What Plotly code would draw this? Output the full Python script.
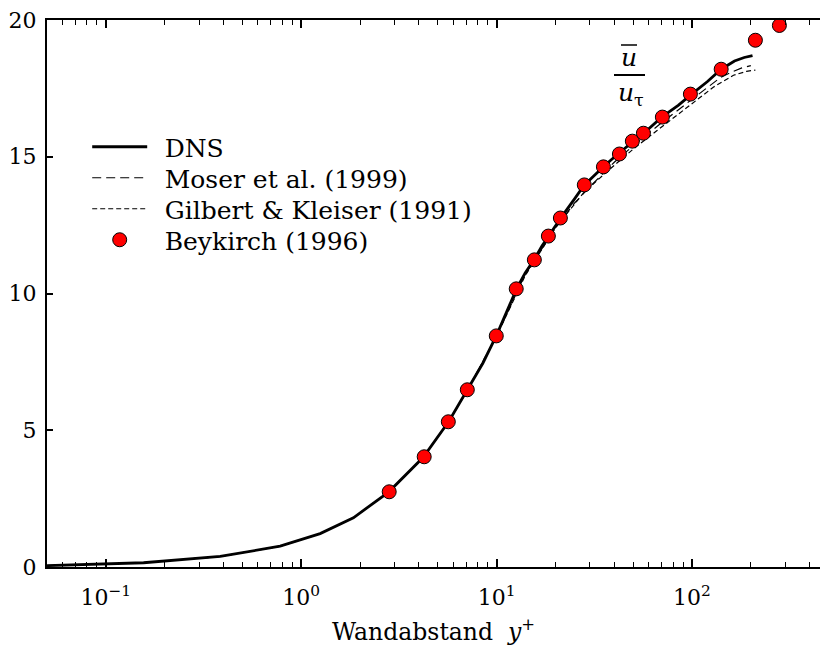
import numpy as np
import plotly.graph_objects as go

# ---- data ----
dns_y = [0.05, 0.156, 0.385, 0.78, 1.25, 1.85, 2.8, 4.2, 5.7, 7.1, 8.5, 10, 11.3, 12.7, 14, 15.6, 17,
         18.5, 20, 21.5, 25, 28, 32, 36, 42, 50, 57, 70, 85, 100, 120, 141, 165, 185, 204]
dns_u = [0.05, 0.156, 0.385, 0.76, 1.22, 1.80, 2.74, 4.0, 5.33, 6.47, 7.45, 8.48, 9.35, 10.2, 10.75,
         11.25, 11.72, 12.12, 12.48, 12.8, 13.45, 13.95, 14.35, 14.7, 15.12, 15.57, 15.88, 16.45,
         16.88, 17.3, 17.75, 18.2, 18.5, 18.63, 18.7]

moser_y = [0.05, 0.156, 0.385, 0.78, 1.25, 1.85, 2.8, 4.2, 5.7, 7.1, 10, 14, 20, 25, 30, 40, 50,
           70, 100, 140, 160, 180, 200]
moser_u = [0.05, 0.156, 0.385, 0.76, 1.22, 1.80, 2.74, 4.0, 5.33, 6.47, 8.45, 10.7, 12.4, 13.3,
           13.9, 14.8, 15.4, 16.25, 17.1, 17.9, 18.1, 18.25, 18.33]

gk_y = [0.05, 0.156, 0.385, 0.78, 1.25, 1.85, 2.8, 4.2, 5.7, 7.1, 10, 14, 20, 25, 28, 38, 50, 66,
        94, 129, 163, 190, 211]
gk_u = [0.05, 0.156, 0.385, 0.76, 1.22, 1.80, 2.74, 4.0, 5.33, 6.47, 8.45, 10.65, 12.4, 13.25,
        13.7, 14.55, 15.28, 15.95, 16.8, 17.55, 17.98, 18.12, 18.17]

bey_y = [2.82, 4.26, 5.66, 7.08, 9.96, 12.6, 15.6, 18.4, 21.2, 28.1, 35.2, 42.5, 49.5, 56.4, 70.5,
         98.1, 141, 211, 280]
bey_u = [2.75, 4.03, 5.31, 6.48, 8.45, 10.17, 11.23, 12.1, 12.76, 13.97, 14.63, 15.1, 15.57, 15.86,
         16.45, 17.29, 18.2, 19.26, 19.8]

x_tickvals = [0.1, 1, 10, 100]
x_ticktext = ["10<sup>\u22121</sup>", "10<sup>0</sup>", "10<sup>1</sup>", "10<sup>2</sup>"]
x_minor = [m * 10.0 ** e for e in range(-2, 3) for m in range(2, 10)]
y_tickvals = [0, 5, 10, 15, 20]

FONT = "DejaVu Serif"
GAP = "\u2002"

fig = go.Figure()
fig.add_trace(go.Scatter(x=dns_y, y=dns_u, mode="lines", name=GAP + "DNS", legend="legend",
                         line=dict(color="black", width=2.8)))
fig.add_trace(go.Scatter(x=moser_y, y=moser_u, mode="lines", name=GAP + "Moser et al. (1999)",
                         legend="legend2",
                         line=dict(color="black", width=1.2, dash="9px,5px")))
fig.add_trace(go.Scatter(x=gk_y, y=gk_u, mode="lines", name=GAP + "Gilbert &amp; Kleiser (1991)",
                         legend="legend3",
                         line=dict(color="black", width=1.2, dash="5px,3px")))
fig.add_trace(go.Scatter(x=bey_y, y=bey_u, mode="markers", name=GAP + "Beykirch (1996)", cliponaxis=False,
                         legend="legend4",
                         marker=dict(color="red", size=14, line=dict(color="black", width=1))))


def leg(row_px):
    return dict(x=0.052, y=(567 - row_px) / 547, xanchor="left", yanchor="middle",
                bgcolor="rgba(0,0,0,0)", font=dict(size=25, family=FONT), itemwidth=55)


fig.update_layout(
    width=820, height=649,
    margin=dict(l=47, r=0, t=20, b=82),
    plot_bgcolor="white", paper_bgcolor="white",
    font=dict(family=FONT, color="black", size=22),
    showlegend=True,
    legend=leg(147), legend2=leg(178), legend3=leg(209), legend4=leg(240),
)
fig.update_xaxes(
    type="log", range=[np.log10(0.05), 2.655],
    tickvals=x_tickvals, ticktext=x_ticktext,
    ticks="inside", ticklen=8, tickwidth=1.5, tickcolor="black",
    showline=True, linecolor="black", linewidth=2, mirror="ticks",
    showgrid=False, zeroline=False,
    minor=dict(tickmode="array", tickvals=x_minor, ticks="inside", ticklen=5, tickwidth=1.2,
               tickcolor="black", showgrid=False),
    tickfont=dict(size=22, family=FONT), ticklabelstandoff=10,
    title=dict(text="Wandabstand  <i>y</i><sup>+</sup>", font=dict(size=23.5, family=FONT), standoff=14),
)
fig.update_yaxes(
    range=[0, 20], tickvals=y_tickvals,
    ticks="inside", ticklen=6, tickwidth=1.5, tickcolor="black",
    showline=True, linecolor="black", linewidth=2, mirror=False,
    showgrid=False, zeroline=False,
    tickfont=dict(size=22, family=FONT), ticklabelstandoff=4,
)

# label u-bar / u_tau
fig.add_annotation(x=(629 - 47) / 773, y=(567 - 58) / 547, xref="paper", yref="paper",
                   xanchor="center", yanchor="middle",
                   text="<i>u</i>", showarrow=False, font=dict(size=25, family=FONT))
fig.add_annotation(x=(631 - 47) / 773, y=(567 - 94) / 547, xref="paper", yref="paper",
                   xanchor="center", yanchor="middle",
                   text="<i>u</i><sub>\u03c4</sub>", showarrow=False, font=dict(size=25, family=FONT))
fig.add_shape(type="line", xref="paper", yref="paper",
              x0=(614 - 47) / 773, x1=(645 - 47) / 773, y0=(567 - 75) / 547, y1=(567 - 75) / 547,
              line=dict(color="black", width=2))
fig.add_shape(type="line", xref="paper", yref="paper",
              x0=(621 - 47) / 773, x1=(637 - 47) / 773, y0=(567 - 45) / 547, y1=(567 - 45) / 547,
              line=dict(color="black", width=1.5))

fig.write_html("out.html")
